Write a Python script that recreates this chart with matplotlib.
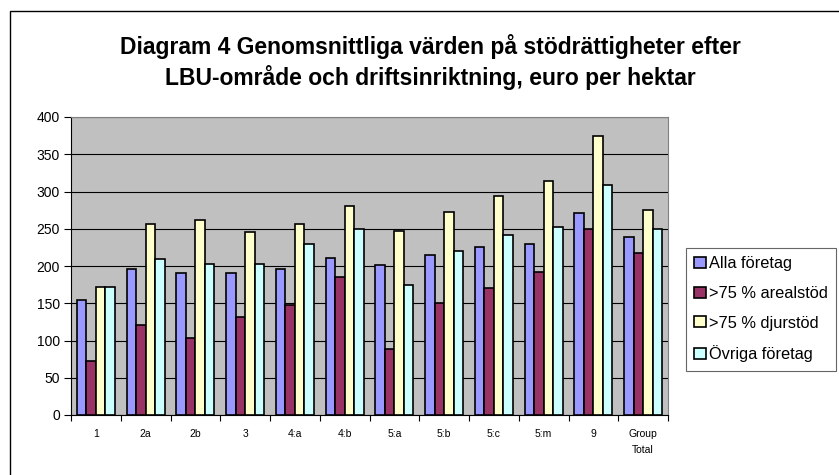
import numpy as np
import matplotlib.pyplot as plt
from matplotlib.patches import Rectangle

plt.rcParams['font.family'] = ['Liberation Sans', 'DejaVu Sans']

categories = ['1', '2a', '2b', '3', '4:a', '4:b', '5:a', '5:b', '5:c', '5:m', '9', 'Group\nTotal']
alla = [155, 196, 190, 190, 196, 211, 202, 215, 226, 230, 271, 239]
areal = [72, 121, 104, 132, 147, 185, 89, 151, 170, 192, 249, 217]
djur = [172, 256, 262, 245, 256, 281, 247, 273, 294, 314, 374, 275]
ovriga = [172, 209, 203, 203, 230, 249, 174, 220, 241, 252, 309, 249]

series = [alla, areal, djur, ovriga]
names = ['Alla företag', '>75 % arealstöd', '>75 % djurstöd', 'Övriga företag']
colors = ['#9999FF', '#993366', '#FFFFCC', '#CCFFFF']

fig = plt.figure(figsize=(8.39, 4.75), dpi=100)
ax = fig.add_axes([71/839, 60/475, 597/839, 298/475])
ax.set_facecolor('#C0C0C0')

x = np.arange(len(categories))
w = 0.19
for i, (vals, name, c) in enumerate(zip(series, names, colors)):
    ax.bar(x + (i - 1.5) * w, vals, w, color=c, edgecolor='black', linewidth=1.2, label=name, zorder=3)

ax.set_xlim(-0.5, len(categories) - 0.5)
ax.set_ylim(0, 400)
ax.set_yticks(range(0, 401, 50))
ax.yaxis.grid(True, color='black', linewidth=0.8, zorder=0)
ax.set_axisbelow(True)
ax.tick_params(axis='y', labelsize=10, length=5, width=0.8, pad=3)

ax.set_xticks(x)
ax.set_xticklabels(categories, fontsize=7.5, linespacing=1.8)
ax.tick_params(axis='x', which='major', length=0, pad=10)
ax.set_xticks(np.arange(-0.5, len(categories)), minor=True)
ax.tick_params(axis='x', which='minor', length=4, width=0.8)

for s in ['top', 'right']:
    ax.spines[s].set_color('#808080')
for s in ['left', 'bottom']:
    ax.spines[s].set_color('black')

fig.text(430/839, 1 - 62/475,
         'Diagram 4 Genomsnittliga värden på stödrättigheter efter\nLBU-område och driftsinriktning, euro per hektar',
         ha='center', va='center', fontsize=16.5, fontweight='bold', linespacing=1.3)

leg = ax.legend(loc='upper left', bbox_to_anchor=(686/839, 1 - 248/475), bbox_transform=fig.transFigure,
                fontsize=11.8, frameon=True, fancybox=False, edgecolor='#404040',
                handlelength=0.7, handleheight=0.65, handletextpad=0.2, labelspacing=0.9,
                borderpad=0.5, borderaxespad=0)
leg.get_frame().set_linewidth(0.8)

# outer chart border (right/bottom edge cut off in the original)
fig.patches.append(Rectangle((10/839, -0.1), 1.2, 1 - 11/475 + 0.1, transform=fig.transFigure,
                             fill=False, edgecolor='black', linewidth=1))

fig.savefig('out.png', dpi=100)
